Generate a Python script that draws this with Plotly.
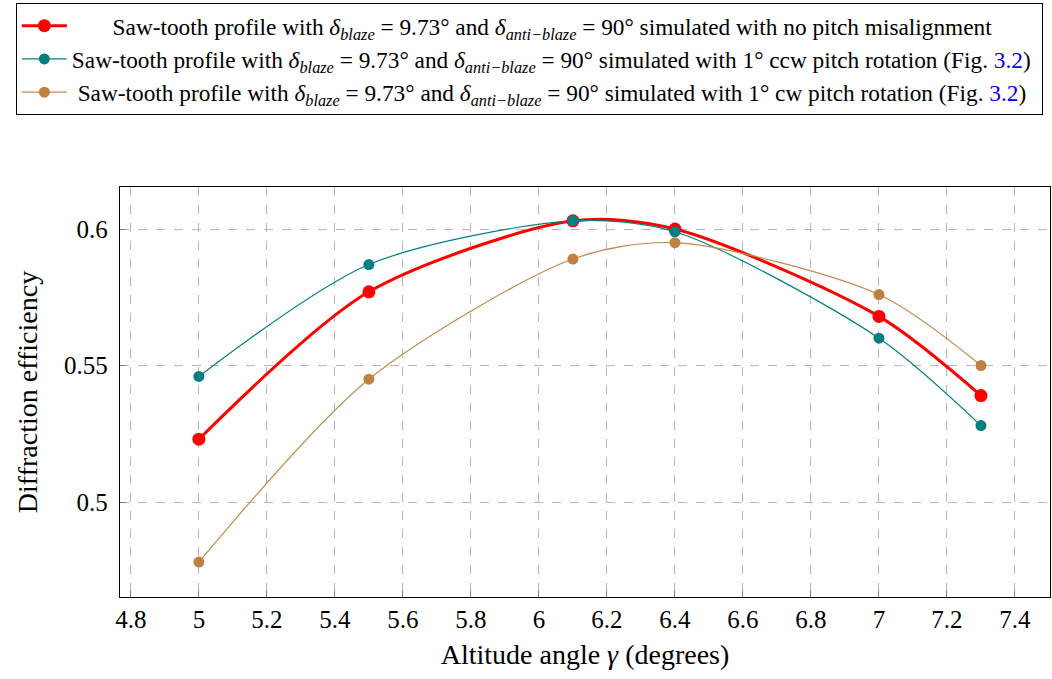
import plotly.graph_objects as go

x_vals = [5.0, 5.5, 6.1, 6.4, 7.0, 7.3]
y_none = [0.523, 0.577, 0.603, 0.600, 0.568, 0.539]
y_ccw = [0.546, 0.587, 0.603, 0.599, 0.560, 0.528]
y_cw = [0.478, 0.545, 0.589, 0.595, 0.576, 0.550]

x_ticks = [4.8, 5.0, 5.2, 5.4, 5.6, 5.8, 6.0, 6.2, 6.4, 6.6, 6.8, 7.0, 7.2, 7.4]
x_ticklabels = ["4.8", "5", "5.2", "5.4", "5.6", "5.8", "6", "6.2", "6.4", "6.6", "6.8", "7", "7.2", "7.4"]
y_ticks = [0.5, 0.55, 0.6]
y_ticklabels = ["0.5", "0.55", "0.6"]

base = "Saw-tooth profile with <i>δ</i><sub><i>blaze</i></sub> = 9.73° and <i>δ</i><sub><i>anti−blaze</i></sub> = 90° simulated with "
names = [
    "&nbsp;" * 7 + base + "no pitch misalignment",
    base + "1° ccw pitch rotation (Fig. <span style='color:#0000ff'>3.2</span>)&nbsp;",
    "&nbsp;" + base + "1° cw pitch rotation (Fig. <span style='color:#0000ff'>3.2</span>)",
]

FONT = "Liberation Serif"

fig = go.Figure()
fig.add_trace(go.Scatter(x=x_vals, y=y_none, mode="lines+markers", name=names[0],
                         line=dict(color="#ff0000", width=3, shape="spline", smoothing=0.8),
                         marker=dict(color="#ff0000", size=13)))
fig.add_trace(go.Scatter(x=x_vals, y=y_ccw, mode="lines+markers", name=names[1],
                         line=dict(color="#008080", width=1.2, shape="spline", smoothing=0.8),
                         marker=dict(color="#008080", size=11)))
fig.add_trace(go.Scatter(x=x_vals, y=y_cw, mode="lines+markers", name=names[2],
                         line=dict(color="#c08a50", width=1.2, shape="spline", smoothing=0.8),
                         marker=dict(color="#bf8040", size=11)))

fig.update_layout(
    width=1052, height=679,
    margin=dict(l=120, r=2, t=187, b=82),
    paper_bgcolor="white", plot_bgcolor="white",
    font=dict(family=FONT, color="black"),
    showlegend=True,
    legend=dict(x=-0.112, y=1.4488, xanchor="left", yanchor="top",
                bgcolor="white", bordercolor="black", borderwidth=1,
                font=dict(family=FONT, size=23.3, color="black"),
                itemwidth=45, tracegroupgap=0),
    xaxis=dict(range=[4.768, 7.503], tickvals=x_ticks, ticktext=x_ticklabels,
               showgrid=True, gridcolor="#b8b8b8", griddash="dash", gridwidth=1,
               showline=True, linecolor="black", linewidth=1.3, mirror=True,
               ticks="inside", ticklen=6, tickcolor="#808080",
               tickfont=dict(family=FONT, size=25),
               title=dict(text="Altitude angle <i>γ</i> (degrees)", font=dict(family=FONT, size=28), standoff=12),
               zeroline=False),
    yaxis=dict(range=[0.4652, 0.6154], tickvals=y_ticks, ticktext=y_ticklabels,
               showgrid=True, gridcolor="#b8b8b8", griddash="dash", gridwidth=1,
               showline=True, linecolor="black", linewidth=1.3, mirror=True,
               ticks="inside", ticklen=6, tickcolor="#808080",
               tickfont=dict(family=FONT, size=25), ticklabelstandoff=6,
               title=dict(text="Diffraction efficiency", font=dict(family=FONT, size=28), standoff=18),
               zeroline=False),
)

fig.write_html("out.html")
